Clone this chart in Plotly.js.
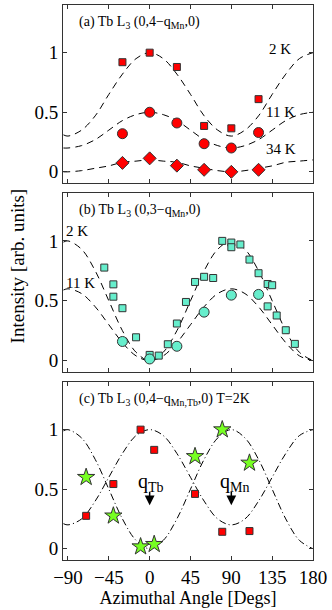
<!DOCTYPE html>
<html>
<head>
<meta charset="utf-8">
<script src="https://cdn.plot.ly/plotly-3.0.1.min.js"></script>
<style>
  html, body { margin: 0; padding: 0; background: #fff; }
  #chart { width: 332px; height: 610px; }
</style>
</head>
<body>
<div id="chart"></div>
<script>
// fit curves, every 15 degrees
const angGrid = [-95, -90, -75, -60, -45, -30, -15, 0, 15, 30, 45, 60, 75, 90, 105, 120, 135, 150, 165, 180];
const fitA2K  = [0.31, 0.30, 0.35, 0.47, 0.65, 0.82, 0.95, 1.00, 0.95, 0.82, 0.65, 0.47, 0.35, 0.30, 0.35, 0.47, 0.65, 0.82, 0.95, 1.00];
const fitA11K = [0.20, 0.20, 0.22, 0.27, 0.35, 0.43, 0.48, 0.50, 0.48, 0.43, 0.35, 0.27, 0.22, 0.20, 0.22, 0.27, 0.35, 0.43, 0.48, 0.50];
const fitA34K = [0.00, 0.00, 0.01, 0.03, 0.05, 0.08, 0.09, 0.10, 0.09, 0.08, 0.05, 0.03, 0.01, 0.00, 0.01, 0.03, 0.05, 0.08, 0.09, 0.10];
const fitB2K  = [0.99, 1.00, 0.93, 0.75, 0.50, 0.25, 0.07, 0.00, 0.07, 0.25, 0.50, 0.75, 0.93, 1.00, 0.93, 0.75, 0.50, 0.25, 0.07, 0.00];
const fitB11K = [0.59, 0.60, 0.56, 0.45, 0.30, 0.15, 0.04, 0.00, 0.04, 0.15, 0.30, 0.45, 0.56, 0.60, 0.56, 0.45, 0.30, 0.15, 0.04, 0.00];
const fitCTb  = [0.21, 0.20, 0.25, 0.40, 0.60, 0.80, 0.95, 1.00, 0.95, 0.80, 0.60, 0.40, 0.25, 0.20, 0.25, 0.40, 0.60, 0.80, 0.95, 1.00];
const fitCMn  = [0.99, 1.00, 0.93, 0.75, 0.50, 0.25, 0.07, 0.00, 0.07, 0.25, 0.50, 0.75, 0.93, 1.00, 0.93, 0.75, 0.50, 0.25, 0.07, 0.00];

// (a) Tb L3 (0,4-qMn,0)
const angA   = [-30, 0, 30, 60, 90, 120];
const a2K    = [0.92, 1.00, 0.88, 0.385, 0.365, 0.61];
const a11K   = [0.32, 0.50, 0.41, 0.236, 0.20, 0.33];
const a34K   = [0.075, 0.113, 0.052, 0.017, 0.0, 0.017];

// (b) Tb L3 (0,3-qMn,0)
const angB2K = [-50, -40, -40, -30, -15, 0, 10, 20, 30, 40, 50, 60, 70, 80, 90, 90, 100, 110, 120, 130, 135, 130, 140, 150, 160];
const b2K    = [0.777, 0.637, 0.534, 0.438, 0.195, 0.048, 0.042, 0.137, 0.31, 0.49, 0.657, 0.70, 0.69, 1.00, 0.986, 0.947, 0.97, 0.844, 0.73, 0.64, 0.63, 0.453, 0.377, 0.254, 0.14];
const angB11K = [-30, 0, 30, 60, 90, 120];
const b11K   = [0.16, 0.014, 0.12, 0.405, 0.547, 0.553];

// (c) Tb L3 (0,4-qMn,Tb,0) T=2K
const angC   = [-70, -40, -10, 5, 50, 80, 110];
const cTb    = [0.276, 0.543, 1.00, 0.83, 0.46, 0.142, 0.148];
const cMn    = [0.60, 0.276, 0.017, 0.037, 0.775, 1.00, 0.72];

const xTicks = [-90, -45, 0, 45, 90, 135, 180];
const yTicks = [0, 0.5, 1];

const serif = 'Liberation Serif';

function fit(y, xa, ya, dash) {
    return {
        x: angGrid, y: y, xaxis: xa, yaxis: ya,
        type: 'scatter', mode: 'lines',
        line: { color: '#000', width: 1, dash: dash, shape: 'spline' },
        hoverinfo: 'skip'
    };
}

function pts(x, y, xa, ya, symbol, size, color) {
    return {
        x: x, y: y, xaxis: xa, yaxis: ya,
        type: 'scatter', mode: 'markers',
        marker: { symbol: symbol, size: size, color: color, line: { color: '#333', width: 1 } }
    };
}

const dashA = '7px,5px';
const dashC = '7px,3px,1px,3px';

const data = [
    fit(fitA2K, 'x', 'y', dashA),
    fit(fitA11K, 'x', 'y', dashA),
    fit(fitA34K, 'x', 'y', dashA),
    pts(angA, a2K, 'x', 'y', 'square', 7, '#ff0000'),
    pts(angA, a11K, 'x', 'y', 'circle', 10, '#ff0000'),
    pts(angA, a34K, 'x', 'y', 'diamond', 10, '#ff0000'),

    fit(fitB2K, 'x2', 'y2', dashA),
    fit(fitB11K, 'x2', 'y2', dashA),
    pts(angB2K, b2K, 'x2', 'y2', 'square', 7, '#66eecc'),
    pts(angB11K, b11K, 'x2', 'y2', 'circle', 10, '#66eecc'),

    fit(fitCTb, 'x3', 'y3', dashC),
    fit(fitCMn, 'x3', 'y3', dashC),
    pts(angC, cTb, 'x3', 'y3', 'square', 7, '#ff0000'),
    pts(angC, cMn, 'x3', 'y3', 'star', 13, '#77ff22')
];

function xAxis(anchor, labels) {
    return {
        anchor: anchor, range: [-95.5, 180],
        tickvals: xTicks, showticklabels: labels,
        ticks: 'inside', ticklen: 4, tickcolor: '#333',
        showline: true, mirror: 'ticks', linecolor: '#333', linewidth: 1,
        showgrid: false, zeroline: false,
        tickfont: { family: serif, size: 19, color: '#000' }
    };
}

function yAxis(anchor, domain) {
    return {
        anchor: anchor, domain: domain, range: [-0.095, 1.4],
        tickvals: yTicks,
        ticks: 'inside', ticklen: 4, tickcolor: '#333',
        showline: true, mirror: 'ticks', linecolor: '#333', linewidth: 1,
        showgrid: false, zeroline: false,
        tickfont: { family: serif, size: 19, color: '#000' }
    };
}

function label(text, x, y, xa, ya, size, anchor) {
    return {
        text: text, x: x, y: y, xref: xa, yref: ya,
        xanchor: anchor || 'center', yanchor: 'middle',
        showarrow: false, font: { family: serif, size: size, color: '#000' }
    };
}

function arrow(x, y, xa, ya) {
    return {
        text: '', x: x, y: y, xref: xa, yref: ya,
        ax: 0, ay: -15, showarrow: true,
        arrowhead: 2, arrowsize: 1.3, arrowwidth: 1.5, arrowcolor: '#000'
    };
}

const x3 = xAxis('y3', true);
x3.title = { text: 'Azimuthal Angle [Degs]', font: { family: serif, size: 18, color: '#000' }, standoff: 2 };

const layout = {
    width: 332, height: 610,
    margin: { l: 63, r: 19, t: 5, b: 50 },
    paper_bgcolor: '#fff', plot_bgcolor: '#fff',
    font: { family: serif, color: '#000' },
    showlegend: false,
    xaxis: xAxis('y', false),
    xaxis2: xAxis('y2', false),
    xaxis3: x3,
    yaxis: yAxis('x', [0.679, 1]),
    yaxis2: yAxis('x2', [0.3387, 0.6613]),
    yaxis3: yAxis('x3', [0, 0.3207]),
    annotations: [
        label('(a) Tb L<sub>3</sub> (0,4−q<sub>Mn</sub>,0)', -80.5, 1.25, 'x', 'y', 14, 'left'),
        label('2 K', 144, 1.03, 'x', 'y', 15),
        label('11 K', 144, 0.50, 'x', 'y', 15),
        label('34 K', 145, 0.19, 'x', 'y', 15),

        label('(b) Tb L<sub>3</sub> (0,3−q<sub>Mn</sub>,0)', -80.5, 1.25, 'x2', 'y2', 14, 'left'),
        label('2 K', -94, 1.08, 'x2', 'y2', 15, 'left'),
        label('11 K', -94, 0.65, 'x2', 'y2', 15, 'left'),

        label('(c) Tb L<sub>3</sub> (0,4−q<sub>Mn,Tb</sub>,0) T=2K', -80.5, 1.25, 'x3', 'y3', 14, 'left'),
        label('q<sub>Tb</sub>', 1, 0.56, 'x3', 'y3', 20),
        label('q<sub>Mn</sub>', 94, 0.56, 'x3', 'y3', 20),
        arrow(0, 0.365, 'x3', 'y3'),
        arrow(90, 0.365, 'x3', 'y3'),

        {
            text: 'Intensity [arb. units]', textangle: -90,
            x: -0.184, y: 0.529, xref: 'paper', yref: 'paper',
            xanchor: 'center', yanchor: 'middle', showarrow: false,
            font: { family: serif, size: 19, color: '#000' }
        }
    ]
};

Plotly.newPlot('chart', data, layout, { displayModeBar: false, staticPlot: true });
</script>
</body>
</html>
